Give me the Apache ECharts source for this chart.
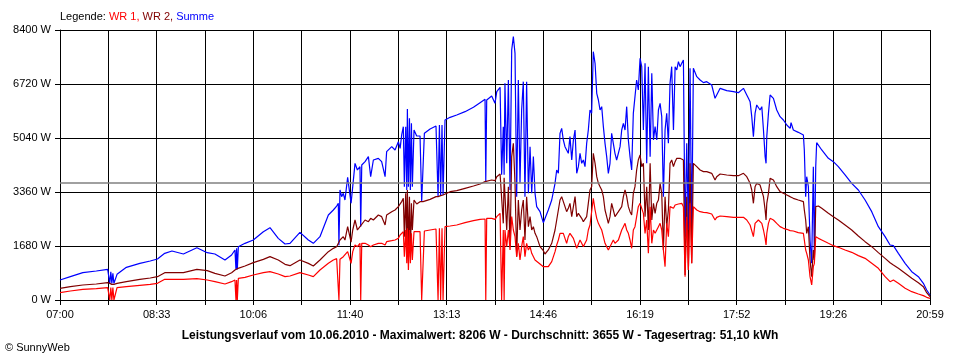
<!DOCTYPE html>
<html><head><meta charset="utf-8">
<script src="https://cdn.jsdelivr.net/npm/echarts@6/dist/echarts.min.js"></script>
<style>html,body{margin:0;padding:0;background:#fff}#c{width:960px;height:360px}</style>
</head><body><div id="c"></div>
<script>
// time axis labels (every second tick)
const timeLabels = ['07:00','08:33','10:06','11:40','13:13','14:46','16:19','17:52','19:26','20:59'];
const average = 3655;
// minutes after 07:00
const minutes = [
0,10,22,35,46,48,49,50,51,52,55,64,77,87,94,101,108,119,132,142,
149.4,159.1,165.5,168.7,169.7,170.3,171,172,178.4,186.4,196.1,202.5,210.5,217,221.8,231.4,239.5,244.3,250.7,258.8,263.6,266.8,268.4,269,270,271.6,273.2,274.8,277.4,
280.7,282.3,284.5,286.8,289.3,290,291,294.2,297.4,299.6,302.2,307,310.2,313.5,315,319.9,323.1,326.3,328,329.5,331.1,332.1,333.4,334.4,335,336,337,337.9,338.9,339.8,341.4,344,347.2,348.8,350.1,351.4,356.9,362.6,364.6,365.9,367.1,368.4,369.4,371.3,376.2,382.6,390.6,398.7,405.1,409.9,410.6,411.5,416.3,419.5,421.2,424.4,
425.9,427.5,428.3,429.1,430.8,432.4,434,435.6,437.2,438.8,440.4,442,443.6,445.2,446.8,448.4,450,451.7,453.3,454.9,456.5,458.1,459.7,462.9,466.1,467.7,470.9,474.2,477.4,479,480.6,482.2,483.8,485.4,487,488.6,490.2,491.8,493.5,495.1,496.7,498.3,499.9,501.5,503.1,504.7,506.3,507.9,509.5,511.1,512.7,514.3,516,517.6,519.2,520.8,522.4,524,525.6,527.2,528.8,530.4,532,533.6,535.2,536.8,538.5,540.1,541.7,543.3,544.9,546.5,548.1,549.7,551.3,552.9,554.5,556.1,557.7,559.4,561,
562.6,564.2,565.8,567.4,569.1,570.7,572.3,573.9,575.5,577.1,578.7,580.3,581.9,583.5,585.1,586.7,588.3,589.9,591.6,593.2,594.8,596.4,598,599.6,601.2,602.8,604.4,606,607.6,609.2,610.8,612.4,614.1,617.3,620.5,623.7,628.5,631.7,633.3,636.6,643,649.4,654.2,659.1,662.3,663.9,665.5,667.1,668.7,670.3,671.9,673.5,675.1,676.8,678.4,680,680.9,681.6,683.2,684.8,688,691.2,694.4,697.6,700.9,704.1,
705,707.2,712,716.9,717.8,719.1,720.1,721.7,723.3,724.9,726.5,727.5,728.8,729.7,731.4,734.6,741,745.8,750.6,757.1,763.5,769.9,776.4,782.8,789.2,795.7,800.5,803.7,808.5,815,821.4,827.8,832.6,835.8,839
];
// Summe (W)
const summe = [
622,726,850,902,954,518,881,518,830,518,798,1016,1140,1213,1275,1452,1524,1431,1628,1472,
1431,1244,1400,1555,950,1607,950,1659,1763,1867,2126,2250,1918,1742,1763,2105,1867,1763,1970,2644,2800,2924,3007,1700,3422,3215,3318,3111,3816,
3008,3526,4252,4045,4148,2282,4200,4304,4460,3837,4356,4408,4304,3837,4615,4770,4667,4926,4719,5134,5393,3526,5393,3422,5942,3526,5652,3422,5496,3526,5289,5102,5102,3060,3060,5185,5320,5413,3215,5445,3246,5445,3267,5600,5683,5756,5859,5994,6139,6243,3682,6222,6347,6119,6482,6616,
3900,5393,3900,6741,4252,6845,3422,7778,8193,7674,3215,6845,3630,5911,6793,3215,6793,3319,4770,3319,4460,3319,2904,2748,2406,2437,2800,3111,3630,4045,3941,5185,5341,4978,4770,4667,4563,5082,4356,4978,5289,3941,4148,4563,4252,4356,4148,4874,5289,5911,5807,7726,7363,6430,6222,5911,6015,5393,4874,4460,3941,4252,5185,4874,4563,4356,4356,4770,5289,5496,5289,6015,4978,4460,4045,5807,6326,6845,6533,7519,7259,
5289,7363,4252,7259,4460,7052,4978,5393,4978,5911,6119,5704,3215,5289,5807,4874,6741,7259,5289,7259,7156,7415,7259,7363,7467,1971,4874,2178,7207,1971,7207,7156,6948,6845,6762,6793,6689,6274,6378,6585,6513,6482,6450,6585,6378,6274,6170,5704,5082,5807,6067,6119,5911,6015,5289,4460,4252,5082,5807,6378,6274,5911,5704,5600,5445,5341,
5517,5289,5216,5133,4667,3215,3837,3526,1867,1141,4148,1244,4148,4895,4853,4667,4407,4304,4148,3889,3630,3422,3111,2748,2281,1970,1711,1690,1452,1141,881,726,518,311,156
];
// WR 2 (W)
const wr2 = [
363,415,467,498,539,518,498,487,487,487,518,570,643,684,726,850,850,850,954,912,
830,747,850,933,954,964,975,985,1058,1161,1265,1348,1244,1110,1068,1244,1140,1058,1244,1503,1607,1659,1680,1680,1866,1918,1970,1866,2281,
1800,2178,2489,2178,2282,2282,2334,2489,2437,2541,2489,2645,2593,2334,2645,2748,2800,2904,2956,3060,3163,1971,3319,1660,3422,1556,3215,1349,3008,2178,3111,2987,3060,3060,3060,3090,3132,3215,3215,3236,3246,3267,3267,3319,3370,3402,3474,3547,3609,3682,3682,3682,3734,3713,3837,3920,
3889,2385,3800,3837,2178,3526,1660,4460,4874,3630,1349,3111,2178,2800,3111,1867,3215,2282,2593,2178,2282,2074,1971,1660,1535,1431,1556,1763,2178,2489,2800,3111,3215,3060,3008,2748,2852,3008,2593,2904,3215,2593,2697,2748,2541,2437,2489,2593,3008,3422,3526,4563,4252,3837,3630,3526,3422,3215,2800,2593,2385,2593,3008,2800,2593,2645,2748,2800,2904,3215,3422,3215,2904,2748,2645,3319,3526,4045,4356,4511,4148,
4252,2593,3526,2178,4252,2489,3008,2697,3008,3111,3630,3319,1556,3215,2282,2800,4252,4356,4148,4304,4408,4356,4408,4460,4356,778,3215,934,4252,1141,4252,4200,4148,4045,3993,3993,3941,3734,3837,3920,3889,3868,3868,3941,3837,3785,3630,3422,3008,3526,3630,3682,3578,3630,3215,2800,2489,3008,3319,3785,3734,3526,3371,3319,3267,3215,
3266,3163,3111,3059,2800,2489,2074,2281,1244,726,1555,1244,2904,2955,2924,2852,2696,2593,2489,2333,2178,1991,1815,1659,1473,1296,1161,1089,985,830,674,539,415,228,104
];
// WR 1 (W)
const wr1 = [
228,280,332,352,384,0,384,0,384,0,384,415,456,487,518,643,643,643,664,622,
570,498,570,622,0,622,0,674,705,778,850,881,809,726,747,850,778,726,933,1141,1244,1286,1286,0,1265,1296,1348,1400,1504,
1141,1504,1711,1660,1763,0,1763,1763,1711,1660,1711,1763,1763,1711,1815,1846,1867,1919,2022,2074,2126,1348,2178,1141,2230,933,2178,1141,2074,1245,2126,2126,2126,0,0,2147,2178,2209,0,2230,0,2230,0,2282,2303,2334,2406,2468,2510,2520,0,2541,2541,2510,2593,2696,
0,2178,0,2178,1660,2178,1556,2593,2178,1971,1349,1763,1245,1660,1971,1349,1763,1556,1660,1452,1504,1245,1193,1120,1037,986,1037,1193,1504,1711,1867,2074,2126,2074,2022,1763,1971,2074,2126,1919,1763,1608,1608,1867,1763,1660,1763,1867,2178,2333,2385,3163,2800,2541,2385,2282,2178,1971,1763,1660,1556,1660,1711,1867,1763,1815,1867,2022,2178,2282,2385,2178,2074,1867,1608,2178,2282,2593,2904,3008,3008,
2696,2074,2489,1452,2904,1763,2178,2074,2178,2282,2385,2178,1556,1037,2385,1971,2904,2956,2852,2956,2904,2987,2956,3008,2904,726,2593,934,3008,1141,2904,2852,2800,2748,2728,2717,2676,2489,2572,2614,2593,2572,2572,2572,2489,2437,2334,2282,1971,2385,2437,2489,2437,2385,2178,1919,1711,2074,2385,2541,2489,2385,2282,2230,2199,2157,
2167,2147,2095,2074,1867,1555,1452,1244,726,467,1037,1141,1970,1950,1918,1867,1763,1690,1639,1555,1483,1380,1296,1141,985,726,570,622,518,363,259,187,135,83,52
];

const xMax = 839;
const xInterval = xMax / 18;
const pair = arr => minutes.map((m, i) => [m, arr[i]]);
const font = 'Liberation Sans, Arial, sans-serif';

const chart = echarts.init(document.getElementById('c'), null, {renderer: 'canvas'});
chart.setOption({
  animation: false,
  backgroundColor: '#ffffff',
  textStyle: {fontFamily: font},
  title: [
    {
      text: '{k|Legende: }{a|WR 1, }{b|WR 2, }{c|Summe}',
      left: 60, top: 11, padding: 0,
      textStyle: {
        fontSize: 11, fontWeight: 'normal',
        rich: {
          k: {color: '#000000', fontSize: 11, fontFamily: font},
          a: {color: '#ff0000', fontSize: 11, fontFamily: font},
          b: {color: '#800000', fontSize: 11, fontFamily: font},
          c: {color: '#0000ff', fontSize: 11, fontFamily: font}
        }
      }
    },
    {
      text: 'Leistungsverlauf vom 10.06.2010 - Maximalwert: 8206 W - Durchschnitt: 3655 W - Tagesertrag: 51,10 kWh',
      left: 'center', top: 330, padding: 0,
      textStyle: {fontSize: 12, fontWeight: 'bold', color: '#000000', fontFamily: font}
    },
    {
      text: '© SunnyWeb',
      left: 5, top: 342, padding: 0,
      textStyle: {fontSize: 11, fontWeight: 'normal', color: '#000000', fontFamily: font}
    }
  ],
  grid: {left: 60, right: 30, top: 30, bottom: 60, containLabel: false},
  xAxis: {
    type: 'value', min: 0, max: xMax, interval: xInterval,
    axisLine: {show: true, lineStyle: {color: '#000000', width: 1}},
    axisTick: {show: true, length: 5, lineStyle: {color: '#000000'}},
    splitLine: {show: true, lineStyle: {color: '#000000', width: 1}},
    axisLabel: {
      color: '#000000', fontSize: 11, margin: 9, fontFamily: font,
      showMinLabel: true, showMaxLabel: true,
      formatter: v => {
        const i = Math.round(v / xInterval);
        return i % 2 === 0 ? (timeLabels[i / 2] || '') : '';
      }
    }
  },
  yAxis: {
    type: 'value', min: 0, max: 8400, interval: 1680,
    axisLine: {show: true, lineStyle: {color: '#000000', width: 1}},
    axisTick: {show: true, length: 5, lineStyle: {color: '#000000'}},
    splitLine: {show: true, lineStyle: {color: '#000000', width: 1}},
    axisLabel: {color: '#000000', fontSize: 11, margin: 9, fontFamily: font, formatter: v => String(v) + ' W'}
  },
  series: [
    {
      name: 'Summe', type: 'line', data: pair(summe), showSymbol: false, symbol: 'none',
      lineStyle: {color: '#0000ff', width: 1.2}, z: 2,
      markLine: {
        silent: true, symbol: 'none', label: {show: false},
        lineStyle: {color: '#808080', type: 'solid', width: 1.5},
        data: [{yAxis: average}]
      }
    },
    {
      name: 'WR 2', type: 'line', data: pair(wr2), showSymbol: false, symbol: 'none',
      lineStyle: {color: '#800000', width: 1.2}, z: 3
    },
    {
      name: 'WR 1', type: 'line', data: pair(wr1), showSymbol: false, symbol: 'none',
      lineStyle: {color: '#ff0000', width: 1.2}, z: 4
    }
  ]
});
</script>
</body></html>
